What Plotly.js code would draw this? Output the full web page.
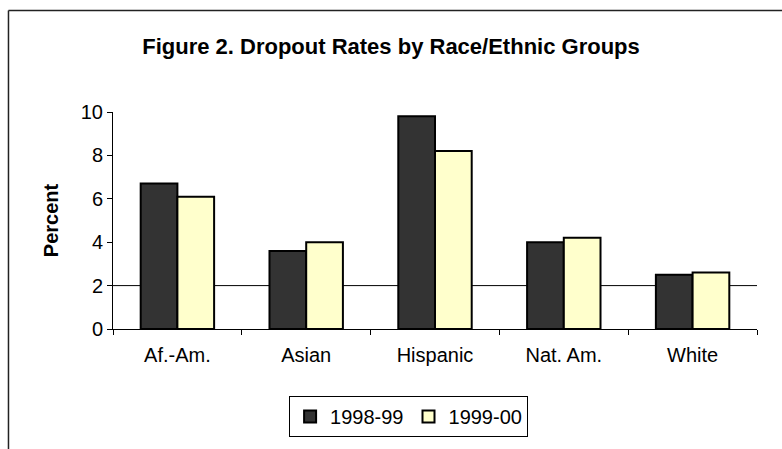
<!DOCTYPE html>
<html>
<head>
<meta charset="utf-8">
<script src="https://cdn.plot.ly/plotly-3.0.1.min.js"></script>
<style>html,body{margin:0;padding:0;background:#fff;}#chart{width:782px;height:449px;}</style>
</head>
<body>
<div id="chart"></div>
<script>
var categories = ["Af.-Am.", "Asian", "Hispanic", "Nat. Am.", "White"];
var rates9899 = [6.7, 3.6, 9.8, 4.0, 2.5];
var rates9900 = [6.1, 4.0, 8.2, 4.2, 2.6];
var seriesNames = ["1998-99", "1999-00"];
var yTicks = [0, 2, 4, 6, 8, 10];

var font = "Liberation Sans, Arial, sans-serif";

var traces = [
  {type: "bar", name: seriesNames[0], x: categories, y: rates9899,
   marker: {color: "#333333", line: {color: "#000000", width: 2}}},
  {type: "bar", name: seriesNames[1], x: categories, y: rates9900,
   marker: {color: "#FFFFCC", line: {color: "#000000", width: 2}}}
];

var layout = {
  width: 782, height: 449,
  margin: {l: 113, r: 25, t: 112, b: 120},
  paper_bgcolor: "#ffffff", plot_bgcolor: "#ffffff",
  font: {family: font, color: "#000000", size: 20},
  barmode: "group", bargap: 0.43, bargroupgap: 0,
  showlegend: true,
  title: {text: "<b>Figure 2. Dropout Rates by Race/Ethnic Groups</b>",
          font: {family: font, size: 22, color: "#000"},
          xref: "container", x: 0.5, xanchor: "center",
          yref: "container", y: 0.897, yanchor: "middle"},
  xaxis: {type: "category", showline: true, linecolor: "#000", linewidth: 1,
          ticks: "outside", tickson: "boundaries", ticklen: 5, tickcolor: "#000",
          showgrid: false, zeroline: false, tickfont: {size: 20}, ticklabelstandoff: 8,
          fixedrange: true},
  yaxis: {range: [0, 10], tickvals: yTicks, showline: true, linecolor: "#000", linewidth: 1,
          ticks: "outside", ticklen: 5, tickcolor: "#000", showgrid: false, zeroline: false,
          tickfont: {size: 20},
          title: {text: "<b>Percent</b>", font: {size: 20}, standoff: 16}},
  legend: {orientation: "h", x: 0.459, xanchor: "center", y: -0.309, yanchor: "top",
           bordercolor: "#000", borderwidth: 1, font: {size: 20},
           itemwidth: 30, tracegroupgap: 0},
  shapes: [
    {type: "line", xref: "paper", yref: "y", x0: 0, x1: 1, y0: 2, y1: 2,
     line: {color: "#000", width: 1}, layer: "below"},
    {type: "line", xref: "paper", yref: "paper", x0: -0.1623, x1: -0.1623, y0: -1, y1: 1.4677,
     line: {color: "#222", width: 1.5}},
    {type: "line", xref: "paper", yref: "paper", x0: -0.1623, x1: 1.2, y0: 1.4677, y1: 1.4677,
     line: {color: "#222", width: 1.5}}
  ]
};

Plotly.newPlot("chart", traces, layout, {displayModeBar: false, staticPlot: true});
</script>
</body>
</html>
